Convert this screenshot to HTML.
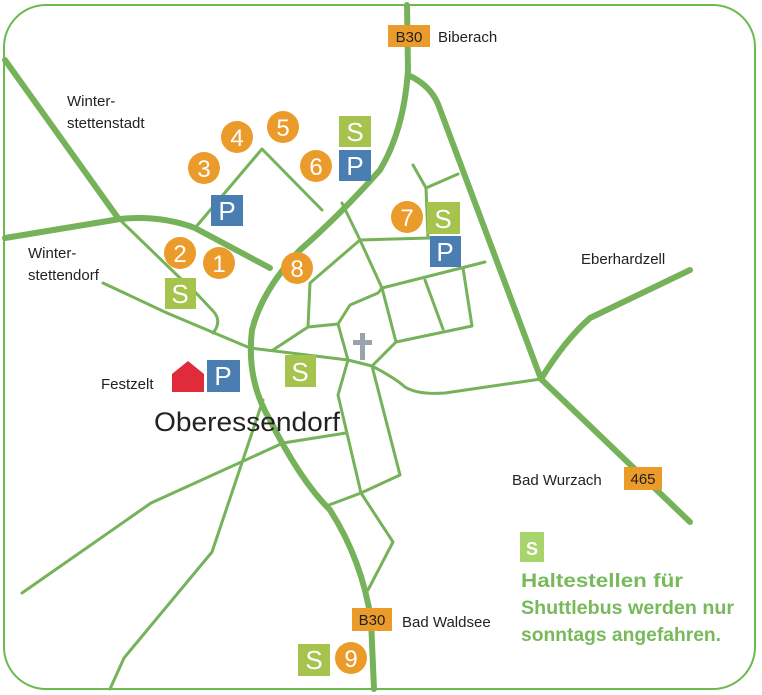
<!DOCTYPE html>
<html><head><meta charset="utf-8"><style>
html,body{margin:0;padding:0;background:#fff;}
svg{display:block;font-family:"Liberation Sans",sans-serif;}
</style></head><body>
<svg width="762" height="695" viewBox="0 0 762 695" xmlns="http://www.w3.org/2000/svg">
<rect x="4" y="5" width="751" height="684" rx="42" fill="#fff" stroke="#6cb94f" stroke-width="2"/>
<g fill="none" stroke="#76b25a" stroke-linecap="round" stroke-linejoin="round">
<g stroke-width="3">
<path d="M118,218 L180,278 L197,294 L214,312 Q222,322 213,333"/>
<path d="M103,283 L167,313 L250,348 L348,360 L372,366 Q395,378 405,387 Q418,395 445,393 L541,379"/>
<path d="M195,228 L262,149 L322,210"/>
<path d="M342,203 L360,240 L430,238"/>
<path d="M360,240 L382,288 L485,262"/>
<path d="M360,240 L310,283 L308,327 L273,350"/>
<path d="M308,327 L338,324 L350,305 L378,293 L382,288"/>
<path d="M338,324 L348,360 L338,395 L361,493 L393,542 L368,590"/>
<path d="M372,366 L400,475 L361,493 L329,505"/>
<path d="M372,366 L396,342 L472,326 L463,268"/>
<path d="M382,288 L396,342"/>
<path d="M425,280 L443,329"/>
<path d="M428,238 L426,188 L413,165"/>
<path d="M426,188 L458,174"/>
<path d="M22,593 L151,503 L283,443 L346,433"/>
<path d="M110,689 L124,658 L212,552 L263,400"/>
</g>
<g stroke-width="6">
<path d="M407,5 L408,70 Q404,130 380,170 Q340,215 300,250 Q262,290 252,330 Q246,380 270,420 Q300,480 330,510 Q362,560 371,620 L374,689"/>
<path d="M408,75 Q430,85 438,104 L541,379 L690,522"/>
<path d="M541,379 Q565,340 590,318 L690,270"/>
<path d="M5,60 L118,218"/>
<path d="M5,238 L120,219 Q160,215 195,228 L270,268"/>
</g>
</g>
<rect x="360" y="333" width="5" height="27" fill="#9aa3ad"/>
<rect x="353" y="340" width="19" height="5" fill="#9aa3ad"/>
<g fill="#eb9b2a">
<circle cx="219" cy="263" r="16"/><circle cx="180" cy="253" r="16"/>
<circle cx="204" cy="168" r="16"/><circle cx="237" cy="137" r="16"/>
<circle cx="283" cy="127" r="16"/><circle cx="316" cy="166" r="16"/>
<circle cx="407" cy="217" r="16"/><circle cx="297" cy="268" r="16"/>
<circle cx="351" cy="658" r="16"/>
</g>
<g fill="#fff" font-size="24" text-anchor="middle">
<text x="219" y="272">1</text><text x="180" y="262">2</text>
<text x="204" y="177">3</text><text x="237" y="146">4</text>
<text x="283" y="136">5</text><text x="316" y="175">6</text>
<text x="407" y="226">7</text><text x="297" y="277">8</text>
<text x="351" y="667">9</text>
</g>
<g fill="#a6c34e">
<rect x="339" y="116" width="32" height="31"/><rect x="427" y="202" width="33" height="32"/>
<rect x="165" y="278" width="31" height="31"/><rect x="285" y="355" width="31" height="32"/>
<rect x="298" y="644" width="32" height="32"/>
</g>
<rect x="520" y="532" width="24" height="30" fill="#a8d46c"/>
<g fill="#fff" font-size="26" text-anchor="middle">
<text x="355" y="141">S</text><text x="443" y="228">S</text>
<text x="180" y="303">S</text><text x="300" y="381">S</text>
<text x="314" y="669">S</text>
<text x="532" y="555" font-size="18" font-weight="bold">S</text>
</g>
<g fill="#4a7db2">
<rect x="339" y="150" width="32" height="31"/><rect x="211" y="195" width="32" height="31"/>
<rect x="430" y="236" width="31" height="31"/><rect x="207" y="360" width="33" height="32"/>
</g>
<g fill="#fff" font-size="26" text-anchor="middle">
<text x="355" y="175">P</text><text x="227" y="220">P</text>
<text x="445" y="261">P</text><text x="223" y="385">P</text>
</g>
<path d="M172,374 L188,361 L204,374 L204,392 L172,392 Z" fill="#e02b3a"/>
<rect x="388" y="25" width="42" height="22" fill="#eb9b2a"/>
<text x="409" y="42" font-size="15" text-anchor="middle" fill="#222">B30</text>
<rect x="352" y="608" width="40" height="23" fill="#eb9b2a"/>
<text x="372" y="625" font-size="15" text-anchor="middle" fill="#222">B30</text>
<rect x="624" y="467" width="38" height="23" fill="#eb9b2a"/>
<text x="643" y="484" font-size="15" text-anchor="middle" fill="#222">465</text>
<g fill="#222" font-size="15">
<text x="438" y="42">Biberach</text>
<text x="67" y="106">Winter-</text>
<text x="67" y="128">stettenstadt</text>
<text x="28" y="258">Winter-</text>
<text x="28" y="280">stettendorf</text>
<text x="581" y="264">Eberhardzell</text>
<text x="101" y="389">Festzelt</text>
<text x="512" y="485">Bad Wurzach</text>
<text x="402" y="627">Bad Waldsee</text>
</g>
<text x="154" y="431" font-size="27" fill="#222" textLength="186" lengthAdjust="spacingAndGlyphs">Oberessendorf</text>
<g fill="#78b95c" font-size="19" font-weight="bold">
<text x="521" y="587" textLength="162" lengthAdjust="spacingAndGlyphs">Haltestellen für</text>
<text x="521" y="614" textLength="213" lengthAdjust="spacingAndGlyphs">Shuttlebus werden nur</text>
<text x="521" y="641" textLength="200" lengthAdjust="spacingAndGlyphs">sonntags angefahren.</text>
</g>
</svg>
</body></html>
